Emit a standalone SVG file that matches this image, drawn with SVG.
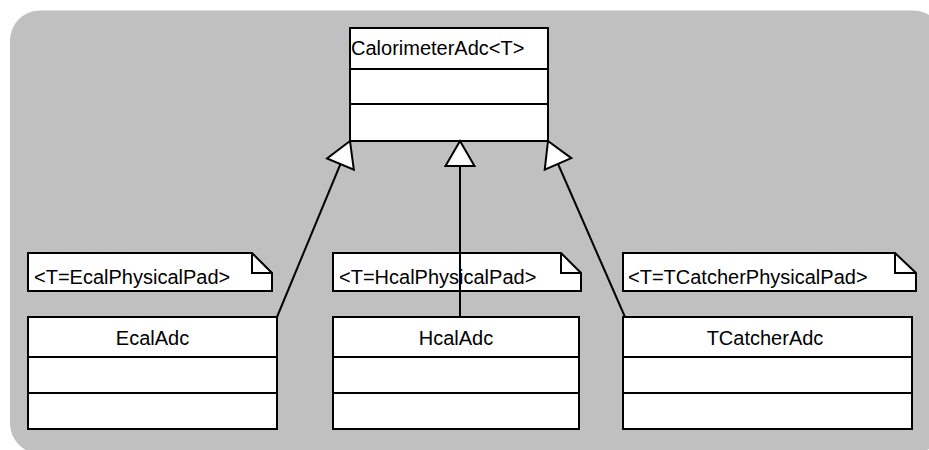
<svg xmlns="http://www.w3.org/2000/svg" width="929" height="450" viewBox="0 0 929 450">
  <style>
    .box { fill: #ffffff; stroke: #000000; stroke-width: 2; }
    .sep { stroke: #000000; stroke-width: 2; fill: none; }
    .note { fill: #ffffff; stroke: #000000; stroke-width: 2; stroke-linejoin: miter; }
    .fold { fill: none; stroke: #000000; stroke-width: 2; }
    .conn { stroke: #000000; stroke-width: 2; fill: none; }
    .head { fill: #ffffff; stroke: #000000; stroke-width: 2; stroke-linejoin: miter; }
    text { font-family: "Liberation Sans", Arial, Helvetica, sans-serif; font-size: 20px; fill: #000000; }
    .c { text-anchor: middle; }
  </style>
  <defs>
    <marker id="gen" viewBox="-28 -17 30 34" refX="0" refY="0" markerWidth="30" markerHeight="34" markerUnits="userSpaceOnUse" orient="auto">
      <path class="head" d="M0,0 L-25,-14.5 L-25,14.5 Z"/>
    </marker>
  </defs>

  <rect x="10" y="10.5" width="933" height="443" rx="30" ry="30" fill="#c0c0c0"/>

  <g id="calorimeterAdc">
    <rect class="box" x="350" y="28" width="198" height="113"/>
    <line class="sep" x1="350" y1="69" x2="548" y2="69"/>
    <line class="sep" x1="350" y1="104" x2="548" y2="104"/>
    <text x="351" y="55">CalorimeterAdc&lt;T&gt;</text>
  </g>

  <g id="ecalNote">
    <path class="note" d="M28,253 L252,253 L272,273 L272,291 L28,291 Z"/>
    <path class="fold" d="M252,253 L252,273 L272,273"/>
    <text x="34" y="284">&lt;T=EcalPhysicalPad&gt;</text>
  </g>
  <g id="hcalNote">
    <path class="note" d="M333,253 L561,253 L581,273 L581,291 L333,291 Z"/>
    <path class="fold" d="M561,253 L561,273 L581,273"/>
    <text x="339" y="284">&lt;T=HcalPhysicalPad&gt;</text>
  </g>
  <g id="tcatcherNote">
    <path class="note" d="M623,253 L895,253 L916,273 L916,291 L623,291 Z"/>
    <path class="fold" d="M895,253 L895,273 L916,273"/>
    <text x="628" y="284">&lt;T=TCatcherPhysicalPad&gt;</text>
  </g>

  <g id="ecalAdc">
    <rect class="box" x="28" y="317" width="249" height="112"/>
    <line class="sep" x1="28" y1="357" x2="277" y2="357"/>
    <line class="sep" x1="28" y1="393" x2="277" y2="393"/>
    <text class="c" x="152.5" y="345">EcalAdc</text>
  </g>
  <g id="hcalAdc">
    <rect class="box" x="333" y="317" width="246" height="112"/>
    <line class="sep" x1="333" y1="357" x2="579" y2="357"/>
    <line class="sep" x1="333" y1="393" x2="579" y2="393"/>
    <text class="c" x="456" y="345">HcalAdc</text>
  </g>
  <g id="tcatcherAdc">
    <rect class="box" x="623" y="317" width="289" height="112"/>
    <line class="sep" x1="623" y1="357" x2="912" y2="357"/>
    <line class="sep" x1="623" y1="393" x2="912" y2="393"/>
    <text class="c" x="765" y="345">TCatcherAdc</text>
  </g>

  <g id="connectors">
    <line class="conn" x1="277" y1="317" x2="350" y2="141" marker-end="url(#gen)"/>
    <line class="conn" x1="460" y1="317" x2="460" y2="141" marker-end="url(#gen)"/>
    <line class="conn" x1="625" y1="317" x2="548" y2="141" marker-end="url(#gen)"/>
  </g>
</svg>
